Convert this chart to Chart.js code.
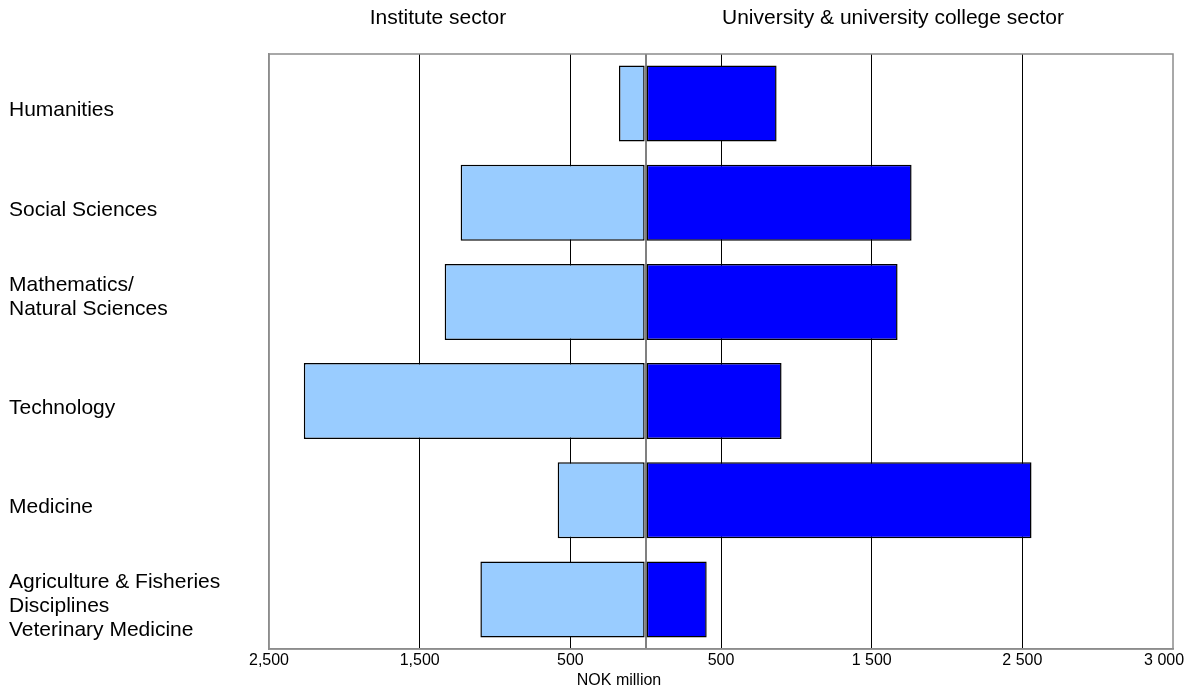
<!DOCTYPE html>
<html><head><meta charset="utf-8">
<script src="https://cdn.jsdelivr.net/npm/chart.js@4"></script>
<style>html,body{margin:0;padding:0;background:#fff}#wrap{width:1184px;height:695px;position:relative}</style>
</head><body><div id="wrap"><canvas id="c"></canvas></div>
<script>
const categories = [["Humanities"],["Social Sciences"],["Mathematics/","Natural Sciences"],["Technology"],["Medicine"],["Agriculture & Fisheries","Disciplines","Veterinary Medicine"]];
const instituteSector = [177, 1228, 1334, 2269, 584, 1097];
const universitySector = [869, 1765, 1672, 902, 2561, 405];
const tickValues = [-2500, -1500, -500, 0, 500, 1500, 2500, 3500];
const tickLabels = ["2,500", "1,500", "500", "", "500", "1 500", "2 500", "3 000"];
const sectorTitles = ["Institute sector", "University & university college sector"];
const axisTitle = "NOK million";

const FAMILY = '"Liberation Sans", Arial, Helvetica, sans-serif';
const BORDER = '#8c8c8c';

const extras = {
  id: 'extras',
  afterDraw(chart) {
    const {ctx, chartArea: a} = chart;
    ctx.save();
    ctx.strokeStyle = BORDER; ctx.lineWidth = 1.5;
    ctx.strokeRect(a.left, a.top, a.right - a.left, a.bottom - a.top);
    ctx.fillStyle = '#000';
    ctx.textAlign = 'center'; ctx.textBaseline = 'middle';
    ctx.font = '21px ' + FAMILY;
    ctx.fillText(sectorTitles[0], 438, 18);
    ctx.fillText(sectorTitles[1], 893, 18);
    ctx.font = '16px ' + FAMILY;
    ctx.fillText(axisTitle, 619, 681);
    ctx.restore();
  }
};

new Chart(document.getElementById('c'), {
  type: 'bar',
  data: {
    labels: categories,
    datasets: [
      { label: sectorTitles[0], data: instituteSector.map(v => -v), backgroundColor: '#99CCFF', borderColor: '#000', borderWidth: 1.5, borderSkipped: false },
      { label: sectorTitles[1], data: universitySector, backgroundColor: '#0000FF', borderColor: '#000', borderWidth: 1.5, borderSkipped: false }
    ]
  },
  options: {
    indexAxis: 'y',
    responsive: true,
    maintainAspectRatio: false,
    animation: false,
    datasets: { bar: { categoryPercentage: 1, barPercentage: 0.766 } },
    layout: { padding: { top: 54, left: 9, right: 11, bottom: 0 } },
    plugins: { legend: { display: false }, tooltip: { enabled: false }, title: { display: false } },
    scales: {
      x: {
        type: 'linear', min: -2500, max: 3500, stacked: true,
        afterBuildTicks(s) { s.ticks = tickValues.map(v => ({ value: v })); },
        ticks: {
          callback: (v, i) => i === tickLabels.length - 1 ? tickLabels[i] + '\u00a0\u00a0\u00a0\u00a0' : tickLabels[i],
          font: { size: 16, family: FAMILY }, color: '#000', padding: 2, maxRotation: 0, autoSkip: false
        },
        grid: {
          drawTicks: false,
          color: c => {
            const v = c.tick ? c.tick.value : null;
            if (v === tickValues[0] || v === tickValues[tickValues.length - 1]) return 'rgba(0,0,0,0)';
            return v === 0 ? '#808080' : '#000';
          },
          lineWidth: c => (c.tick && c.tick.value === 0) ? 2 : 1
        },
        border: { color: BORDER, width: 1.5 },
        afterFit(s) { s.height = 46; s.paddingLeft = 0; s.paddingRight = 0; }
      },
      y: {
        type: 'category', stacked: true, offset: true,
        grid: { display: false },
        border: { color: BORDER, width: 1.5 },
        ticks: {
          callback: (v, i) => i === 2 ? categories[i].concat(['']) : categories[i],
          crossAlign: 'far', font: { size: 21, family: FAMILY, lineHeight: 1.13 }, color: '#000', labelOffset: 7, autoSkip: false
        },
        afterFit(s) { s.width = 260; s.paddingTop = 0; s.paddingBottom = 0; }
      }
    }
  },
  plugins: [extras]
});
</script>
</body></html>
